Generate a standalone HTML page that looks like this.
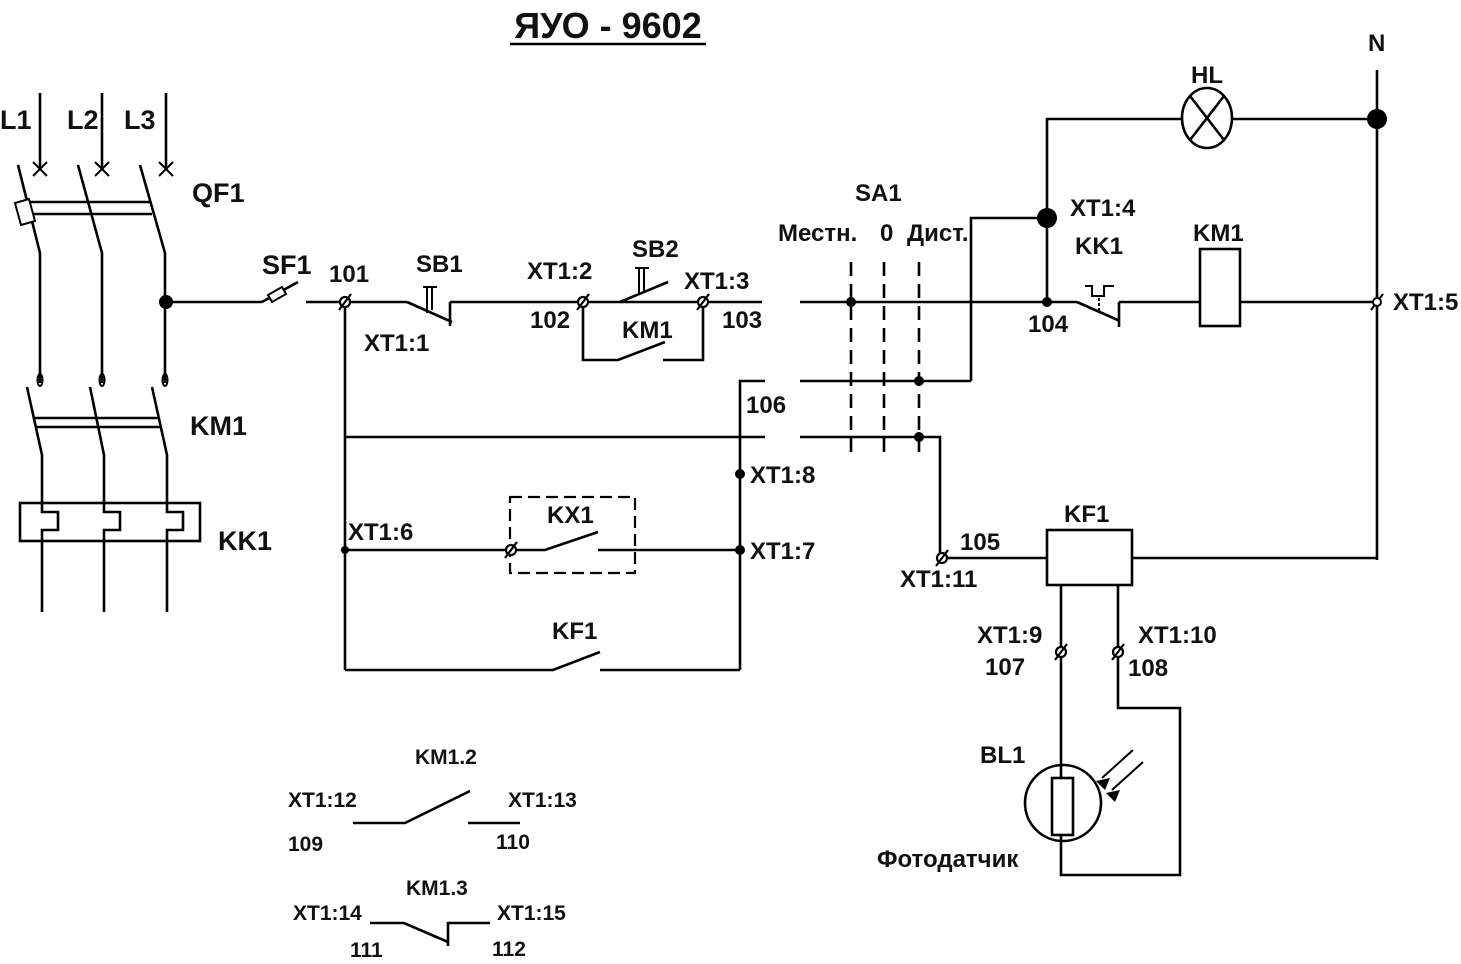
<!DOCTYPE html>
<html><head><meta charset="utf-8"><style>
html,body{margin:0;padding:0;background:#fff}
svg{display:block}
text{font-family:"Liberation Sans",sans-serif;font-weight:bold;fill:#111}
</style></head><body>
<svg width="1461" height="964" viewBox="0 0 1461 964" xmlns="http://www.w3.org/2000/svg">
<defs>
<g id="t"><circle cx="0" cy="0" r="5" fill="#fff" stroke="#000" stroke-width="2.2"/><line x1="-6" y1="8" x2="6" y2="-8" stroke="#000" stroke-width="2.2"/></g>
</defs>
<g stroke="#000" stroke-width="2.6" fill="none" stroke-linecap="butt">
<line x1="510" y1="44" x2="706" y2="44"/>
<line x1="40" y1="93" x2="40" y2="168"/><line x1="102" y1="93" x2="102" y2="168"/><line x1="166" y1="93" x2="166" y2="168"/>
<path d="M33 162l14 14M47 162l-14 14M95 162l14 14M109 162l-14 14M159 162l14 14M173 162l-14 14" stroke-width="2"/>
<path d="M18 165L40 253V383M78 165L102 253V383M140 165L165 253V383"/>
<line x1="26" y1="202" x2="150" y2="202"/><line x1="28" y1="214" x2="152" y2="214"/>
<path d="M15 203l14 -4l6 22l-14 4z" stroke-width="2" fill="#fff"/>
<ellipse cx="40" cy="380" rx="2.5" ry="6" stroke-width="2"/><ellipse cx="102" cy="380" rx="2.5" ry="6" stroke-width="2"/><ellipse cx="165" cy="380" rx="2.5" ry="6" stroke-width="2"/>
<path d="M27 387L42 455V512H58V530H42V612M90 387L104 455V512H120V530H104V612M152 387L167 455V512H183V530H167V612"/>
<line x1="35" y1="418" x2="158" y2="418"/><line x1="36" y1="427" x2="160" y2="427"/>
<rect x="20" y="503" width="180" height="38" fill="none"/>
<line x1="165" y1="302" x2="262" y2="302"/>
<line x1="262" y1="302" x2="298" y2="282"/>
<path d="M268 295l14-8l4 7l-14 8z" stroke-width="2" fill="#fff"/>
<line x1="306" y1="302" x2="407" y2="302"/>
<path d="M407 302L452 322M450 302V326M450 302H665"/>
<path d="M427 313V288M432 310V288M423 287H437" stroke-width="2"/>
<path d="M620 302L668 282"/>
<path d="M639 294V269M644 292V269M635 268H649" stroke-width="2"/>
<line x1="665" y1="302" x2="762" y2="302"/>
<path d="M583 302V360H618L665 342M663 360H703V302"/>
<line x1="800" y1="302" x2="1077" y2="302"/>
<path d="M1077 302L1120 321M1119 302V327M1119 302H1200"/>
<path d="M1085 286H1092V296H1104V286H1114" stroke-width="2"/>
<line x1="1099" y1="298" x2="1099" y2="312" stroke-width="2" stroke-dasharray="3 2"/>
<rect x="1200" y="249" width="40" height="77"/>
<line x1="1240" y1="302" x2="1377" y2="302"/>
<line x1="1377" y1="70" x2="1377" y2="560"/>
<path d="M1047 302V119H1183M1231 119H1377"/>
<ellipse cx="1207" cy="118" rx="25" ry="30"/>
<path d="M1190 96L1224 140M1224 96L1190 140"/>
<path d="M971 381V218H1047"/>
<g stroke-dasharray="14 8"><line x1="851" y1="262" x2="851" y2="460"/><line x1="884" y1="262" x2="884" y2="460"/><line x1="919" y1="262" x2="919" y2="460"/></g>
<path d="M800 381H971M800 437H940V558H1047"/>
<path d="M765 381H740V670"/>
<line x1="345" y1="437" x2="765" y2="437"/>
<line x1="345" y1="302" x2="345" y2="670"/>
<path d="M345 550H545L598 532M598 550H740"/>
<rect x="510" y="497" width="125" height="76" stroke-width="2.2" stroke-dasharray="12 6"/>
<path d="M345 670H553L600 652M600 670H740"/>
<rect x="1047" y="530" width="85" height="55"/>
<line x1="1132" y1="558" x2="1377" y2="558"/>
<path d="M1061 585V875H1180V708H1118V585"/>
<circle cx="1063" cy="803" r="38"/>
<rect x="1052" y="778" width="21" height="57" fill="#fff"/>
<path d="M1133 750L1102 778M1143 762L1112 790" stroke-width="2"/>
<path d="M353 823H405L470 791M468 823H520"/>
<path d="M370 923H404L448 942M448 946V923H490"/>
</g>
<g fill="#000">
<path d="M1096 781l14-3l-5 12z"/><path d="M1106 793l14-3l-5 12z"/>
<circle cx="166" cy="302" r="7"/><circle cx="1377" cy="119" r="10"/><circle cx="1047" cy="218" r="10"/>
<circle cx="851" cy="302" r="5"/><circle cx="1047" cy="302" r="5"/><circle cx="919" cy="381" r="5"/><circle cx="919" cy="437" r="5"/>
<circle cx="740" cy="474" r="5"/><circle cx="740" cy="550" r="5"/><circle cx="345" cy="550" r="4"/>
</g>
<use href="#t" x="345" y="302"/><use href="#t" x="583" y="302"/><use href="#t" x="703" y="302"/>
<use href="#t" x="511" y="550"/><use href="#t" x="942" y="558"/><use href="#t" x="1061" y="652"/><use href="#t" x="1118" y="652"/>
<line x1="1371" y1="310" x2="1383" y2="294" stroke="#000" stroke-width="2"/><circle cx="1377" cy="302" r="4" fill="#fff" stroke="#000" stroke-width="2"/>
<text x="608" y="38" font-size="36" text-anchor="middle">ЯУО - 9602</text>
<g font-size="27">
<text x="0" y="129">L1</text><text x="67" y="129">L2</text><text x="124" y="129">L3</text>
<text x="192" y="202">QF1</text><text x="190" y="435">KM1</text><text x="218" y="550">KK1</text>
<text x="262" y="274">SF1</text>
</g>
<g font-size="24">
<text x="329" y="282">101</text><text x="416" y="272">SB1</text><text x="364" y="351">XT1:1</text>
<text x="527" y="279">XT1:2</text><text x="632" y="257">SB2</text><text x="684" y="289">XT1:3</text>
<text x="530" y="328">102</text><text x="722" y="328">103</text><text x="622" y="338">KM1</text>
<text x="746" y="413">106</text><text x="750" y="483">XT1:8</text><text x="348" y="540">XT1:6</text>
<text x="547" y="523">KX1</text><text x="750" y="559">XT1:7</text><text x="552" y="639">KF1</text>
<text x="855" y="201">SA1</text><text x="778" y="241">Местн.</text><text x="880" y="241">0</text><text x="907" y="241">Дист.</text>
<text x="1070" y="216">XT1:4</text><text x="1075" y="254">KK1</text><text x="1193" y="241">KM1</text>
<text x="1028" y="332">104</text><text x="1393" y="310">XT1:5</text><text x="1191" y="83">HL</text><text x="1368" y="51">N</text>
<text x="960" y="550">105</text><text x="900" y="587">XT1:11</text><text x="1064" y="522">KF1</text>
<text x="977" y="643">XT1:9</text><text x="985" y="675">107</text><text x="1138" y="643">XT1:10</text><text x="1128" y="676">108</text>
<text x="980" y="763">BL1</text>
<text x="877" y="867">Фотодатчик</text>
</g>
<g font-size="21">
<text x="415" y="764">KM1.2</text><text x="288" y="807">XT1:12</text><text x="508" y="807">XT1:13</text>
<text x="288" y="851">109</text><text x="496" y="849">110</text>
<text x="406" y="895">KM1.3</text><text x="293" y="920">XT1:14</text><text x="497" y="920">XT1:15</text>
<text x="350" y="957">111</text><text x="492" y="956">112</text>
</g>
</svg>
</body></html>
